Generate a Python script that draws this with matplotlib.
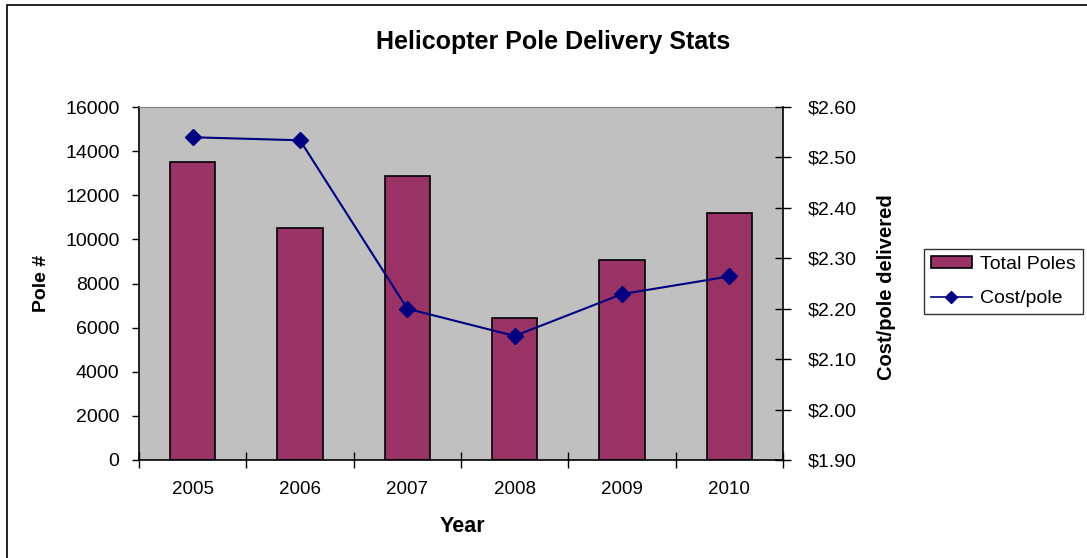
import matplotlib.pyplot as plt
from matplotlib.patches import Rectangle
from matplotlib.lines import Line2D
import numpy as np

plt.rcParams['font.family'] = ['Liberation Sans', 'DejaVu Sans']

# data
years = ['2005', '2006', '2007', '2008', '2009', '2010']
total_poles = [13500, 10500, 12850, 6450, 9050, 11200]
cost_per_pole = [2.54, 2.534, 2.20, 2.146, 2.229, 2.264]
cost_ticks = [1.90, 2.00, 2.10, 2.20, 2.30, 2.40, 2.50, 2.60]

W, H = 1087, 558
fig = plt.figure(figsize=(W / 100, H / 100), dpi=100)
fig.patch.set_facecolor('white')

# chart frame (only top/left visible in the original)
fig.patches.append(Rectangle((7 / W, -0.1), 1.2, 1 - 5 / H + 0.1, transform=fig.transFigure,
                             fill=False, edgecolor='black', linewidth=1.2))

ax = fig.add_axes([139 / W, 1 - 460 / H, 644 / W, 353 / H])
ax.set_facecolor('#C0C0C0')
x = np.arange(len(years))
ax.bar(x, total_poles, width=0.42, color='#993366', edgecolor='black', linewidth=1.2, zorder=2)
ax.set_xlim(-0.5, len(years) - 0.5)
ax.set_ylim(0, 16000)
ax.set_yticks(np.arange(0, 16001, 2000))
ax.set_xticks(np.arange(-0.5, len(years), 1.0))
ax.set_xticklabels([])
ax.set_xticks(x, minor=True)
ax.set_xticklabels(years, minor=True)
ax.tick_params(axis='x', which='minor', length=0, pad=15, labelsize=13.5)
ax.tick_params(axis='x', which='major', direction='inout', length=12, width=1)
ax.tick_params(axis='y', direction='out', length=5, width=1, labelsize=14, pad=9)
ax.spines['top'].set_color('#808080')
ax.spines['right'].set_visible(False)
for s in ['left', 'bottom']:
    ax.spines[s].set_linewidth(1.2)

ax2 = ax.twinx()
ax2.plot(x, cost_per_pole, color='#000080', marker='D', markersize=8, linewidth=1.5, zorder=3)
ax2.set_ylim(1.90, 2.60)
ax2.set_yticks(cost_ticks)
ax2.set_yticklabels(['$%.2f' % v for v in cost_ticks])
ax2.tick_params(axis='y', direction='inout', length=12, width=1, labelsize=14, pad=12)
ax2.spines['top'].set_visible(False)
ax2.spines['right'].set_linewidth(1.2)
ax2.spines['left'].set_visible(False)
ax2.spines['bottom'].set_visible(False)

fig.text(553 / W, 1 - 42 / H, 'Helicopter Pole Delivery Stats', ha='center', va='center',
         fontsize=18, fontweight='bold')
fig.text(462 / W, 1 - 526 / H, 'Year', ha='center', va='center', fontsize=15.5, fontweight='bold')
fig.text(42 / W, 1 - 283 / H, 'Pole #', ha='center', va='center', rotation=90,
         fontsize=14, fontweight='bold')
fig.text(887 / W, 1 - 287 / H, 'Cost/pole delivered', ha='center', va='center', rotation=90,
         fontsize=14.5, fontweight='bold')

handles = [Rectangle((0, 0), 1, 1, facecolor='#993366', edgecolor='black', linewidth=1.2),
           Line2D([], [], color='#000080', marker='D', markersize=6, linewidth=1.2)]
leg = fig.legend(handles, ['Total Poles', 'Cost/pole'], loc='upper left',
                 bbox_to_anchor=(924 / W, 1 - 249 / H), frameon=True, fancybox=False,
                 fontsize=14, handlelength=2.1, handleheight=0.6, borderpad=0.35,
                 labelspacing=0.9, handletextpad=0.45, borderaxespad=0)
leg.get_frame().set_edgecolor('black')
leg.get_frame().set_linewidth(1.0)

fig.savefig('out.png', dpi=100)
